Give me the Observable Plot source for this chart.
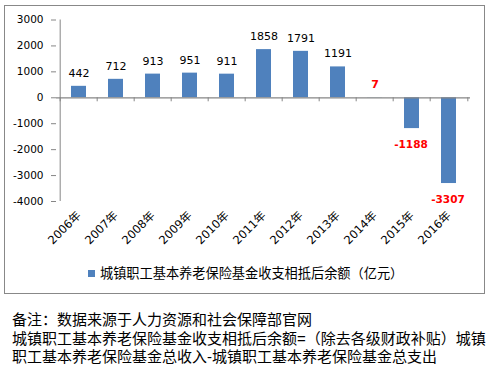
<!DOCTYPE html>
<html>
<head>
<meta charset="utf-8">
<script src="https://cdn.jsdelivr.net/npm/d3@7"></script>
<script src="https://cdn.jsdelivr.net/npm/@observablehq/plot@0.6"></script>
<style>
  html, body { margin: 0; padding: 0; background: #fff; }
  body { width: 489px; height: 369px; position: relative; overflow: hidden; font-family: "Noto Sans CJK SC", sans-serif; }
  #box { position: absolute; left: 4px; top: 5px; width: 479px; height: 287px; border: 1px solid #888; box-sizing: content-box; }
  #chart { position: absolute; left: 0; top: 0; }
  #legend { position: absolute; left: 88px; top: 264px; font-size: 13.2px; line-height: 18px; color: #000; white-space: nowrap; display: flex; align-items: center; }
  #legend .sw { width: 7px; height: 7px; background: #4F81BD; margin-right: 5px; }
  #note { position: absolute; left: 12px; top: 311px; font-family: "Liberation Sans", "Noto Sans CJK SC", sans-serif; font-size: 15px; line-height: 18.5px; color: #000; white-space: nowrap; }
  #note div { height: 18.5px; }
</style>
</head>
<body>
<div id="box"></div>
<div id="chart"></div>
<div id="legend"><span class="sw"></span><span>城镇职工基本养老保险基金收支相抵后余额（亿元）</span></div>
<div id="note">
  <div>备注：数据来源于人力资源和社会保障部官网</div>
  <div>城镇职工基本养老保险基金收支相抵后余额=（除去各级财政补贴）城镇</div>
  <div>职工基本养老保险基金总收入-城镇职工基本养老保险基金总支出</div>
</div>
<script>
const years = ["2006年","2007年","2008年","2009年","2010年","2011年","2012年","2013年","2014年","2015年","2016年"];
const values = [442, 712, 913, 951, 911, 1858, 1791, 1191, 7, -1188, -3307];
const highlighted = ["2014年","2015年","2016年"];
const yTicks = [-4000, -3000, -2000, -1000, 0, 1000, 2000, 3000];

const data = years.map((y, i) => ({year: y, value: values[i], hi: highlighted.includes(y)}));

const W = 489, H = 290;
const mL = 56, mR = 19, mT = 19.5, mB = 89;
const step = (W - mL - mR) / years.length;
const axisColor = "#868686";
const numFont = "DejaVu Sans, Verdana, sans-serif";

const plot = Plot.plot({
  width: W,
  height: H,
  marginLeft: mL,
  marginRight: mR,
  marginTop: mT,
  marginBottom: mB,
  style: {fontFamily: numFont, fontSize: "10.5px", color: "#000", background: "transparent"},
  x: {domain: years, type: "band", paddingInner: 0.6, paddingOuter: 0.3, label: null},
  y: {domain: [-4000, 3000], label: null},
  marks: [
    Plot.barY(data, {x: "year", y: "value", fill: "#4F81BD"}),
    // y axis line
    Plot.ruleX([years[0]], {x: d => d, y1: -4000, y2: 3000, dx: -step / 2, stroke: axisColor}),
    // zero line
    Plot.ruleY([0], {stroke: axisColor, strokeWidth: 1.2}),
    // category boundary ticks
    Plot.ruleX(years, {x: d => d, y1: 0, y2: 0, insetBottom: -4, dx: -step / 2, stroke: axisColor}),
    Plot.ruleX([years[years.length - 1]], {x: d => d, y1: 0, y2: 0, insetBottom: -4, dx: step / 2, stroke: axisColor}),
    Plot.axisY({ticks: yTicks, tickFormat: d => String(d), tickSize: 5, tickPadding: 8, stroke: axisColor, fontSize: 10.5, fontFamily: numFont, fill: "#000", label: null}),
    Plot.axisX({anchor: "bottom", tickRotate: -45, tickSize: 0, tickPadding: 12, fontSize: 11.5, fontFamily: "DejaVu Sans, Noto Sans CJK SC, sans-serif", fill: "#000", label: null}),
    // value labels
    Plot.text(data.filter(d => !d.hi), {x: "year", y: "value", text: d => String(d.value), dy: -13, fontSize: 11, fontFamily: numFont, fill: "#000"}),
    Plot.text(data.filter(d => d.hi && d.value >= 0), {x: "year", y: "value", text: d => String(d.value), dy: -13, fontSize: 11, fontWeight: "bold", fontFamily: numFont, fill: "#FF0000"}),
    Plot.text(data.filter(d => d.hi && d.value < 0), {x: "year", y: "value", text: d => String(d.value), dy: 16.5, dx: -1, fontSize: 10.5, fontWeight: "bold", fontFamily: numFont, fill: "#FF0000"})
  ]
});
document.getElementById("chart").appendChild(plot);
</script>
</body>
</html>
